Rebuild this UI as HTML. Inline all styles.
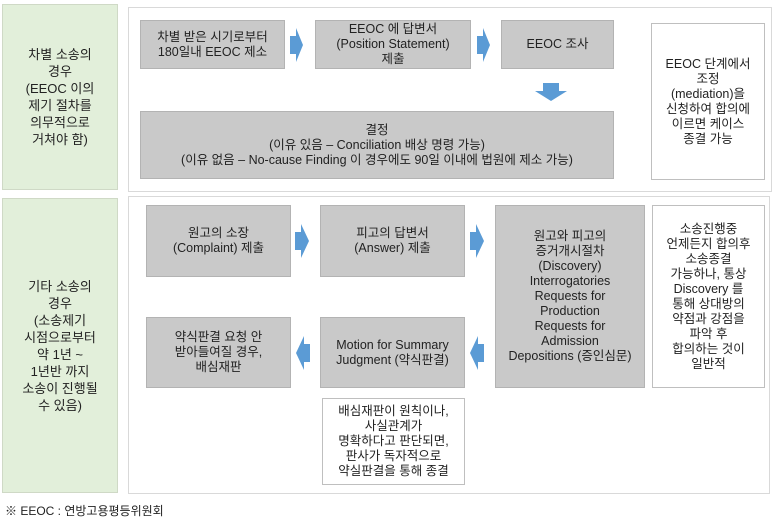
<!DOCTYPE html>
<html><head><meta charset="utf-8"><style>
body{margin:0;width:773px;height:520px;background:#fff;position:relative;font-family:"Liberation Sans","Noto Sans CJK KR",sans-serif;font-size:12.5px;color:#222;overflow:hidden}
.b{position:absolute;box-sizing:border-box;display:flex;align-items:center;justify-content:center;text-align:center;line-height:15px}
.g{background:#e2efda;border:1px solid #cfd9c6;font-size:13px;line-height:17px}
.p{border:1.5px solid #d9d9d9;background:#fff}
.s{background:#c9c9c9;border:1px solid #b3b3b3}
.w{background:#fff;border:1px solid #bfbfbf}
svg{position:absolute;left:0;top:0}
</style></head><body>
<div class="b g" style="left:2px;top:4px;width:116px;height:186px">차별 소송의<br>경우<br>(EEOC 이의<br>제기 절차를<br>의무적으로<br>거쳐야 함)</div>
<div class="b p" style="left:128px;top:7px;width:644px;height:185px"></div>
<div class="b g" style="left:2px;top:198px;width:116px;height:295px">기타 소송의<br>경우<br>(소송제기<br>시점으로부터<br>약 1년 ~<br>1년반 까지<br>소송이 진행될<br>수 있음)</div>
<div class="b p" style="left:128px;top:196px;width:642px;height:298px"></div>

<div class="b s" style="left:140px;top:20px;width:145px;height:49px">차별 받은 시기로부터<br>180일내 EEOC 제소</div>
<div class="b s" style="left:315px;top:20px;width:156px;height:49px">EEOC 에 답변서<br>(Position Statement)<br>제출</div>
<div class="b s" style="left:501px;top:20px;width:113px;height:49px">EEOC 조사</div>
<div class="b s" style="left:140px;top:111px;width:474px;height:68px">결정<br>(이유 있음 – Conciliation 배상 명령 가능)<br>(이유 없음 – No-cause Finding 이 경우에도 90일 이내에 법원에 제소 가능)</div>
<div class="b w" style="left:651px;top:23px;width:114px;height:157px">EEOC 단계에서<br>조정<br>(mediation)을<br>신청하여 합의에<br>이르면 케이스<br>종결 가능</div>

<div class="b s" style="left:146px;top:205px;width:145px;height:72px">원고의 소장<br>(Complaint) 제출</div>
<div class="b s" style="left:320px;top:205px;width:145px;height:72px">피고의 답변서<br>(Answer) 제출</div>
<div class="b s" style="left:495px;top:205px;width:150px;height:183px">원고와 피고의<br>증거개시절차<br>(Discovery)<br>Interrogatories<br>Requests for<br>Production<br>Requests for<br>Admission<br>Depositions (증인심문)</div>
<div class="b w" style="left:652px;top:205px;width:113px;height:183px">소송진행중<br>언제든지 합의후<br>소송종결<br>가능하나, 통상<br>Discovery 를<br>통해 상대방의<br>약점과 강점을<br>파악 후<br>합의하는 것이<br>일반적</div>
<div class="b s" style="left:146px;top:317px;width:145px;height:71px">약식판결 요청 안<br>받아들여질 경우,<br>배심재판</div>
<div class="b s" style="left:320px;top:317px;width:145px;height:71px">Motion for Summary<br>Judgment (약식판결)</div>
<div class="b w" style="left:322px;top:398px;width:143px;height:87px">배심재판이 원칙이나,<br>사실관계가<br>명확하다고 판단되면,<br>판사가 독자적으로<br>약실판결을 통해 종결</div>

<svg width="773" height="520" fill="#5b9bd5">
<polygon points="290,36 296,36 296,28 303,45 296,62 296,54 290,54"/>
<polygon points="477,36 483,36 483,28 490,45 483,62 483,54 477,54"/>
<polygon points="543,83 559,83 559,91 567,91 551,101 535,91 543,91"/>
<polygon points="295,232 301,232 301,224 309,241 301,258 301,250 295,250"/>
<polygon points="470,232 476,232 476,224 484,241 476,258 476,250 470,250"/>
<polygon points="310,344 304,344 304,336 296,353 304,370 304,362 310,362"/>
<polygon points="484,344 478,344 478,336 470,353 478,370 478,362 484,362"/>
</svg>
<div style="position:absolute;left:5px;top:502px;font-size:12px">※ EEOC : 연방고용평등위원회</div>
</body></html>
